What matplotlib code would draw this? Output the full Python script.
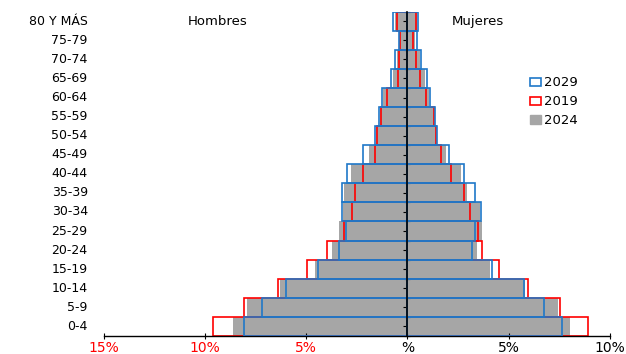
import numpy as np
import matplotlib
matplotlib.use("Agg")
import matplotlib.pyplot as plt
from matplotlib.patches import Patch
import matplotlib.transforms as mtransforms

plt.rcParams['font.family'] = ['DejaVu Sans']

# age groups, bottom to top
ages = ["0-4", "5-9", "10-14", "15-19", "20-24", "25-29", "30-34", "35-39", "40-44",
        "45-49", "50-54", "55-59", "60-64", "65-69", "70-74", "75-79", "80 Y MÁS"]

# % of population, hombres
men_2019 = [9.6, 8.1, 6.4, 4.97, 3.95, 3.13, 2.75, 2.57, 2.18, 1.6, 1.52, 1.3, 0.99, 0.48, 0.43, 0.36, 0.53]
men_2024 = [8.6, 7.95, 6.3, 4.55, 3.73, 3.4, 3.2, 3.13, 2.8, 1.88, 1.56, 1.35, 1.19, 0.73, 0.5, 0.4, 0.62]
men_2029 = [8.1, 7.2, 6.0, 4.4, 3.36, 3.05, 3.24, 3.24, 3.0, 2.2, 1.6, 1.39, 1.27, 0.8, 0.6, 0.4, 0.7]

# mujeres
women_2019 = [8.93, 7.55, 5.94, 4.55, 3.68, 3.48, 3.09, 2.79, 2.17, 1.67, 1.4, 1.3, 0.9, 0.6, 0.41, 0.3, 0.41]
women_2024 = [8.04, 7.42, 5.8, 4.1, 3.45, 3.7, 3.6, 2.95, 2.66, 1.9, 1.41, 1.3, 1.05, 0.89, 0.6, 0.4, 0.46]
women_2029 = [7.63, 6.76, 5.74, 4.17, 3.18, 3.36, 3.66, 3.36, 2.78, 2.08, 1.46, 1.34, 1.13, 0.98, 0.69, 0.46, 0.52]

xticks = [-15, -10, -5, 0, 5, 10]
xticklabels = ["15%", "10%", "5%", "%", "5%", "10%"]

gray = '#a6a6a6'
red = '#ff0000'
blue = '#1f78c8'

fig = plt.figure(figsize=(6.26, 3.54), dpi=100)
ax = fig.add_axes([0.166, 0.051, 0.808, 0.916])

y = np.arange(len(ages))

# 2024 filled
ax.barh(y, -np.array(men_2024), height=1, color=gray, zorder=1)
ax.barh(y, women_2024, height=1, color=gray, zorder=1)
# 2019 red outline
ax.barh(y, -np.array(men_2019), height=1, fill=False, edgecolor=red, linewidth=1.2, zorder=2)
ax.barh(y, women_2019, height=1, fill=False, edgecolor=red, linewidth=1.2, zorder=2)
# 2029 blue outline
ax.barh(y, -np.array(men_2029), height=1, fill=False, edgecolor=blue, linewidth=1.2, zorder=3)
ax.barh(y, women_2029, height=1, fill=False, edgecolor=blue, linewidth=1.2, zorder=3)

ax.set_xlim(-15, 10)
ax.set_ylim(-0.5, len(ages) - 0.5)

# center axis
ax.spines['left'].set_position(('data', 0))
ax.spines['left'].set_zorder(5)
ax.spines['left'].set_linewidth(1.2)
ax.spines['right'].set_visible(False)
ax.spines['top'].set_visible(False)
ax.spines['bottom'].set_linewidth(1.0)
ax.set_yticks(np.arange(len(ages) + 1) - 0.5)
ax.set_yticks(y, minor=True)
ax.tick_params(axis='y', which='major', direction='inout', length=5, width=0.8, labelleft=False)
ax.tick_params(axis='y', which='minor', direction='in', length=3, width=0.8, labelleft=False)
for t in ax.yaxis.get_minor_ticks():
    t.tick1line.set_marker(0)

ax.set_xticks(xticks)
ax.set_xticklabels(xticklabels, fontsize=10)
ax.tick_params(axis='x', direction='inout', length=5, width=0.8, pad=1)
for lbl, v in zip(ax.get_xticklabels(), xticks):
    lbl.set_color(red if v < 0 else 'black')

# age labels on the left
trans = mtransforms.blended_transform_factory(ax.transAxes, ax.transData)
for i, a in enumerate(ages):
    ax.text(-0.032, i, a, transform=trans, ha='right', va='center', fontsize=9)

ax.text(0.225, 16, "Hombres", transform=trans, ha='center', va='center', fontsize=9.5)
ax.text(0.74, 16, "Mujeres", transform=trans, ha='center', va='center', fontsize=9.5)

handles = [Patch(facecolor='white', edgecolor=blue, linewidth=1.2, label='2029'),
           Patch(facecolor='white', edgecolor=red, linewidth=1.2, label='2019'),
           Patch(facecolor=gray, edgecolor=gray, label='2024')]
fig.legend(handles=handles, loc='upper left', bbox_to_anchor=(0.846, 0.784), frameon=False,
           fontsize=9.5, handlelength=0.9, handleheight=0.6, handletextpad=0.2, labelspacing=0.45,
           borderaxespad=0, borderpad=0)

fig.savefig("out.png", dpi=100)
